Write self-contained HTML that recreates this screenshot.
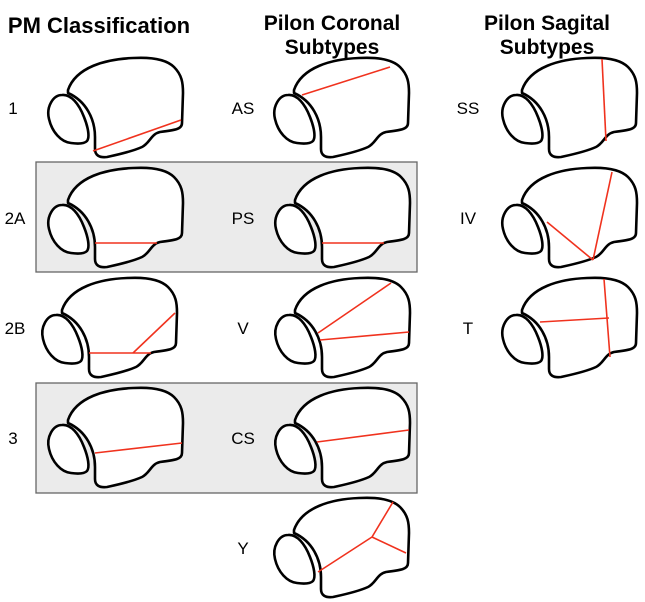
<!DOCTYPE html>
<html><head><meta charset="utf-8"><style>
html,body{margin:0;padding:0;background:#fff;}
svg{display:block;font-family:"Liberation Sans",Arial,sans-serif;}
</style></head><body>
<svg width="645" height="602" viewBox="0 0 645 602" xmlns="http://www.w3.org/2000/svg">
<defs>
<g id="b">
<path d="M22,33 C30,10 60,2 87,1 C105,0 120,2 128,10 C136,18 137,26 137,36 L136,66 C136,72 130,73 114,75 C105,77 104,86 96,90 C85,95 70,98 61,100 C53,101 49,98 49,92 L49,80 C49,62 40,44 22,36 Z" fill="#fff" stroke="#000" stroke-width="2.6" stroke-linejoin="round"/>
<path d="M3,62 C0,50 7,38 16,38 C25,37 33,47 38,60 C42,70 44,80 41,84 C38,87 32,87 25,86 C15,85 6,75 3,62 Z" fill="#fff" stroke="#000" stroke-width="2.6"/>
</g>
</defs>
<rect x="36" y="162" width="381" height="110" fill="#ebebeb" stroke="#666" stroke-width="1.3"/>
<rect x="36" y="383" width="381" height="110" fill="#ebebeb" stroke="#666" stroke-width="1.3"/>
<g font-weight="bold" font-size="21" text-anchor="middle">
<text x="99" y="33" font-size="22">PM Classification</text>
<text x="332" y="30">Pilon Coronal</text>
<text x="332" y="54">Subtypes</text>
<text x="547" y="30">Pilon Sagital</text>
<text x="547" y="54">Subtypes</text>
</g>
<g font-size="17" text-anchor="middle">
<text x="13" y="114">1</text><text x="15" y="224">2A</text><text x="15" y="334">2B</text><text x="13" y="444">3</text>
<text x="243" y="114">AS</text><text x="243" y="224">PS</text><text x="243" y="334">V</text><text x="243" y="444">CS</text><text x="243" y="554">Y</text>
<text x="468" y="114">SS</text><text x="468" y="224">IV</text><text x="468" y="334">T</text>
</g>
<g stroke="#f0321e" stroke-width="1.6" fill="none">
<g transform="translate(46,57)"><use href="#b"/><line x1="47" y1="94" x2="135" y2="63"/></g>
<g transform="translate(46,167)"><use href="#b"/><line x1="49" y1="76" x2="111" y2="76"/></g>
<g transform="translate(40,277)"><use href="#b"/><line x1="49" y1="76" x2="111" y2="76"/><line x1="93" y1="76" x2="135" y2="36"/></g>
<g transform="translate(46,387)"><use href="#b"/><line x1="49" y1="66" x2="136" y2="56"/></g>
<g transform="translate(272,57)"><use href="#b"/><line x1="30" y1="38" x2="118" y2="10"/></g>
<g transform="translate(273,167)"><use href="#b"/><line x1="49" y1="76" x2="111" y2="76"/></g>
<g transform="translate(273,277)"><use href="#b"/><line x1="45" y1="56" x2="118" y2="6"/><line x1="47" y1="63" x2="136" y2="55"/></g>
<g transform="translate(273,387)"><use href="#b"/><line x1="44" y1="55" x2="136" y2="43"/></g>
<g transform="translate(272,497)"><use href="#b"/><line x1="46" y1="75" x2="100" y2="40"/><line x1="100" y1="40" x2="121" y2="5"/><line x1="100" y1="40" x2="134" y2="56"/></g>
<g transform="translate(500,57)"><use href="#b"/><line x1="102" y1="2" x2="106" y2="84"/></g>
<g transform="translate(500,167)"><use href="#b"/><line x1="47" y1="55" x2="93" y2="93"/><line x1="93" y1="93" x2="112" y2="5"/></g>
<g transform="translate(500,277)"><use href="#b"/><line x1="40" y1="45" x2="109" y2="41"/><line x1="104" y1="2" x2="110" y2="80"/></g>
</g>
</svg>
</body></html>
